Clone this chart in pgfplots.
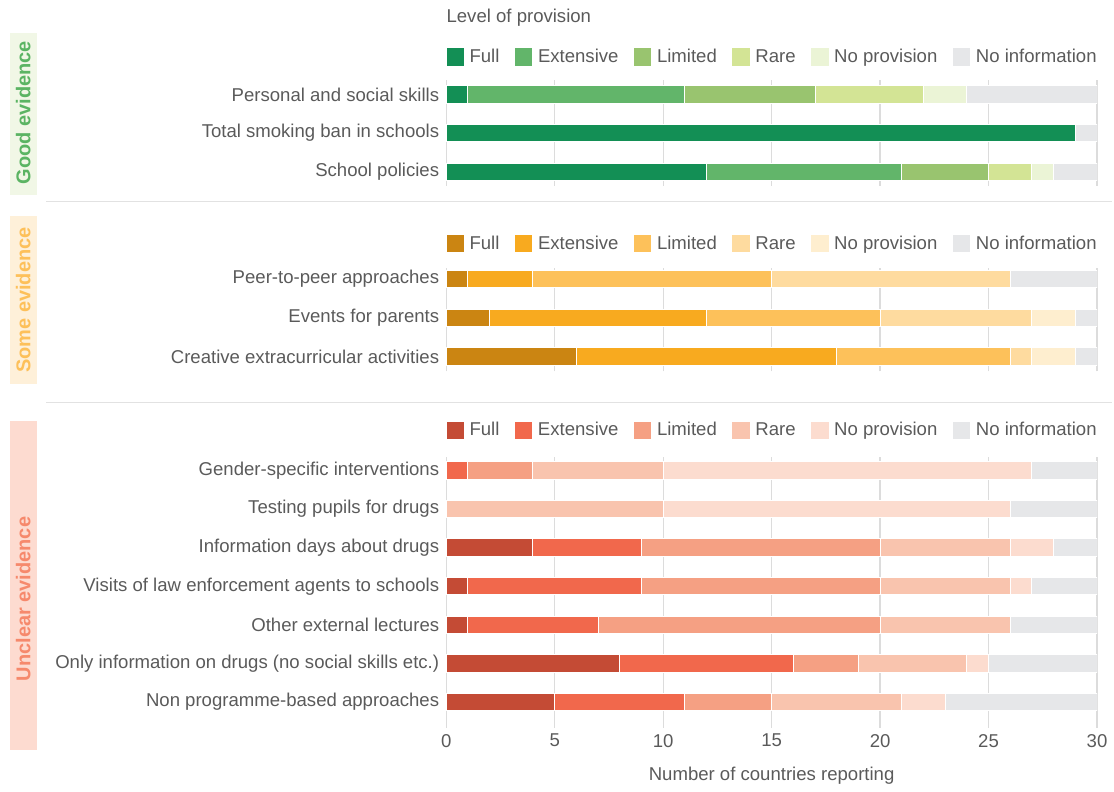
\documentclass[border=0pt]{standalone}
\usepackage{pgfplots}
\pgfplotsset{compat=1.18}
\usepackage{pgfplotstable}
\usepackage{fontspec}
\setmainfont{Liberation Sans}

\definecolor{txt}{HTML}{5A5A5A}
\definecolor{gridc}{HTML}{DCDCDC}
\definecolor{sepc}{HTML}{E2E2E2}
\definecolor{noinfo}{HTML}{E6E7E9}
% good evidence
\definecolor{gA}{HTML}{138F55}
\definecolor{gB}{HTML}{62B56A}
\definecolor{gC}{HTML}{99C46F}
\definecolor{gD}{HTML}{D3E495}
\definecolor{gE}{HTML}{EBF4D6}
\definecolor{gBand}{HTML}{F1F7E6}
\definecolor{gTxt}{HTML}{5BB463}
% some evidence
\definecolor{oA}{HTML}{CB8512}
\definecolor{oB}{HTML}{F8AA1F}
\definecolor{oC}{HTML}{FDC15A}
\definecolor{oD}{HTML}{FEDB9F}
\definecolor{oE}{HTML}{FEEECF}
\definecolor{oBand}{HTML}{FEF0D9}
\definecolor{oTxt}{HTML}{FDC05A}
% unclear evidence
\definecolor{rA}{HTML}{C44B35}
\definecolor{rB}{HTML}{F1684C}
\definecolor{rC}{HTML}{F5A083}
\definecolor{rD}{HTML}{F9C4AE}
\definecolor{rE}{HTML}{FCDCCF}
\definecolor{rBand}{HTML}{FDDBD0}
\definecolor{rTxt}{HTML}{F6896C}

% y: row position (top row has the largest y)
\pgfplotstableread{
y full ext lim rare nop ninf
2 1 10 6 5 2 6
1 29 0 0 0 0 1
0 12 9 4 2 1 2
}\good
\pgfplotstableread{
y full ext lim rare nop ninf
2 1 3 11 11 0 4
1 2 10 8 7 2 1
0 6 12 8 1 2 1
}\some
\pgfplotstableread{
y full ext lim rare nop ninf
6 0 1 3 6 17 3
5 0 0 0 10 16 4
4 4 5 11 6 2 2
3 1 8 11 6 1 3
2 1 6 13 6 0 4
1 8 8 3 5 1 5
0 5 6 4 6 2 7
}\unclear

\pgfplotsset{
  panel/.style={
    xbar stacked,
    x=10.8667pt, y=19.35pt,
    xmin=0, xmax=30,
    bar width=8.75pt,
    axis line style={draw=none},
    tick style={draw=none},
    xtick={0,5,...,30},
    xmajorgrids,
    major grid style={draw=gridc, line width=0.6pt},
    yticklabel style={text=txt},
    xticklabel style={text=txt},
    /pgf/number format/assume math mode=true,
    legend columns=6,
    legend style={draw=none, fill=none, inner sep=0pt, anchor=west, at={(0,1)},
      nodes={inner sep=0pt, text=txt},
      /tikz/every odd column/.append style={column sep=2.8pt},
      /tikz/every even column/.append style={column sep=7.8pt, text height=0.72em, text depth=0.22em}},
    legend image code/.code={\fill[##1,draw=none] (0pt,-4.35pt) rectangle (8.7pt,4.35pt);},
    every axis plot/.append style={draw=white, line width=0.5pt},
  },
}

\begin{document}
\begin{tikzpicture}[font=\fontsize{9.3}{11}\selectfont]
\begin{scope}[x=0.5pt,y=-0.5pt]
  \useasboundingbox (0,0) rectangle (1114,788);
  \fill[gBand] (10,33) rectangle (36.7,195);
  \fill[oBand] (10,216.7) rectangle (36.7,385);
  \fill[rBand] (10,421.7) rectangle (36.7,751);
  \node[rotate=90, text=gTxt, font=\fontsize{10}{11}\selectfont\bfseries] at (23.3,113) {Good evidence};
  \node[rotate=90, text=oTxt, font=\fontsize{10}{11}\selectfont\bfseries] at (23.3,300.5) {Some evidence};
  \node[rotate=90, text=rTxt, font=\fontsize{10}{11}\selectfont\bfseries] at (23.3,600) {Unclear evidence};
  \draw[sepc, line width=0.7pt] (46,201.7) -- (1114,201.7);
  \draw[sepc, line width=0.7pt] (46,403.3) -- (1114,403.3);
  \node[anchor=west, text=txt, inner sep=0pt] at (447,18) {Level of provision};
  \coordinate (p1) at (447,80);
  \coordinate (p2) at (447,268);
  \coordinate (p3) at (447,458);
\end{scope}

\begin{axis}[panel, at={(p1)}, anchor=north west,
  ymin=-0.36, ymax=2.38, xticklabels={},
  ytick={0,1,2},
  yticklabels={School policies, Total smoking ban in schools, Personal and social skills},
  legend style={yshift=11.5pt}]
  \addplot[fill=gA] table[x=full,y=y]{\good};
  \addplot[fill=gB] table[x=ext,y=y]{\good};
  \addplot[fill=gC] table[x=lim,y=y]{\good};
  \addplot[fill=gD] table[x=rare,y=y]{\good};
  \addplot[fill=gE] table[x=nop,y=y]{\good};
  \addplot[fill=noinfo] table[x=ninf,y=y]{\good};
  \legend{Full, Extensive, Limited, Rare, No provision, No information}
\end{axis}

\begin{axis}[panel, at={(p2)}, anchor=north west,
  ymin=-0.39, ymax=2.30, xticklabels={},
  ytick={0,1,2},
  yticklabels={Creative extracurricular activities, Events for parents, Peer-to-peer approaches},
  legend style={yshift=12pt}]
  \addplot[fill=oA] table[x=full,y=y]{\some};
  \addplot[fill=oB] table[x=ext,y=y]{\some};
  \addplot[fill=oC] table[x=lim,y=y]{\some};
  \addplot[fill=oD] table[x=rare,y=y]{\some};
  \addplot[fill=oE] table[x=nop,y=y]{\some};
  \addplot[fill=noinfo] table[x=ninf,y=y]{\some};
  \legend{Full, Extensive, Limited, Rare, No provision, No information}
\end{axis}

\begin{axis}[panel, at={(p3)}, anchor=north west,
  ymin=-0.67, ymax=6.34,
  xticklabel style={yshift=0.5pt},
  xlabel={Number of countries reporting},
  xlabel style={text=txt, at={(axis description cs:0.5,0)}, anchor=center, yshift=-24pt},
  ytick={0,...,6},
  yticklabels={Non programme-based approaches, Only information on drugs (no social skills etc.), Other external lectures, Visits of law enforcement agents to schools, Information days about drugs, Testing pupils for drugs, Gender-specific interventions},
  legend style={yshift=13.5pt}]
  \addplot[fill=rA] table[x=full,y=y]{\unclear};
  \addplot[fill=rB] table[x=ext,y=y]{\unclear};
  \addplot[fill=rC] table[x=lim,y=y]{\unclear};
  \addplot[fill=rD] table[x=rare,y=y]{\unclear};
  \addplot[fill=rE] table[x=nop,y=y]{\unclear};
  \addplot[fill=noinfo] table[x=ninf,y=y]{\unclear};
  \legend{Full, Extensive, Limited, Rare, No provision, No information}
\end{axis}
\end{tikzpicture}
\end{document}
